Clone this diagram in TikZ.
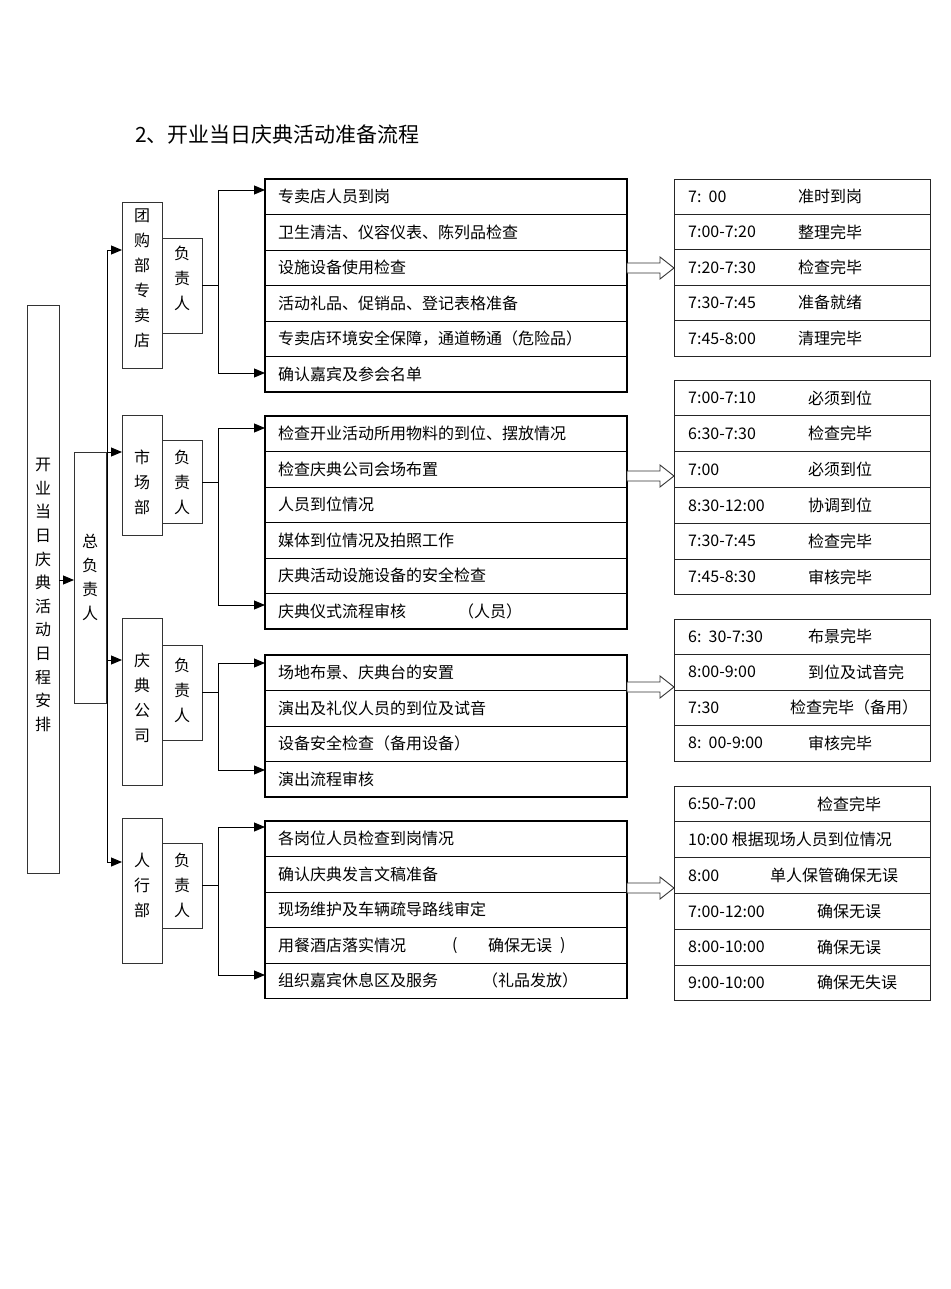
\documentclass[tikz,border=0pt]{standalone}
\usepackage{fontspec}
\setmainfont{Noto Sans CJK SC}
\usetikzlibrary{arrows.meta}
\begin{document}
\begin{tikzpicture}[x=1pt,y=-1pt,
  every node/.style={font=\fontsize{16}{18}\selectfont,inner sep=0pt},
  vbox/.style={draw=black!80,line width=0.9pt},
  vtext/.style={align=center,font=\fontsize{16}{25}\selectfont},
  arr/.style={line width=0.9pt,-{Triangle[length=11pt,width=9pt]}},
  ln/.style={line width=0.9pt},
  tl/.style={anchor=west},
  hollow/.style={draw=black!80,fill=white,line width=0.9pt}]
\useasboundingbox (0,0) rectangle (950,1289);
\node[tl,font=\fontsize{21}{24}\selectfont] (title) at (135,135) {2、开业当日庆典活动准备流程};
% left
\draw[vbox] (27,305) rectangle (59,873);
\node[vtext,font=\fontsize{16}{23.6}\selectfont] (main) at (43,595) {开\\业\\当\\日\\庆\\典\\活\\动\\日\\程\\安\\排};
\coordinate (mainR) at (59,580);
\draw[vbox] (74,452) rectangle (106,703);
\node[vtext,font=\fontsize{16}{24}\selectfont] (zong) at (90,577) {总\\负\\责\\人};
\coordinate (zongL) at (74,580);
\draw[arr] (mainR) -- (zongL);
% trunk
\draw[ln] (107,862) -- (107,250);
\foreach \y in {250,452,660,862} \draw[arr] (107,\y) -- (122,\y);
% departments
\draw[vbox] (122,202) rectangle (162,368);
\node[vtext] (d1) at (142,278) {团\\购\\部\\专\\卖\\店};
\draw[vbox] (162,238) rectangle (202,333);
\node[vtext] (f1) at (182,278) {负\\责\\人};
\draw[vbox] (122,415) rectangle (162,535);
\node[vtext] (d2) at (142,482) {市\\场\\部};
\draw[vbox] (162,440) rectangle (202,523);
\node[vtext] (f2) at (182,482) {负\\责\\人};
\draw[vbox] (122,618) rectangle (162,785);
\node[vtext] (d3) at (142,698) {庆\\典\\公\\司};
\draw[vbox] (162,645) rectangle (202,740);
\node[vtext] (f3) at (182,690) {负\\责\\人};
\draw[vbox] (122,818) rectangle (162,963);
\node[vtext] (d4) at (142,885) {人\\行\\部};
\draw[vbox] (162,843) rectangle (202,928);
\node[vtext] (f4) at (182,885) {负\\责\\人};
% buses
\foreach \m/\a/\b in {285/190/373, 482/428/605, 692/663/770, 885/827/975}{
  \draw[ln] (202,\m) -- (218,\m);
  \draw[ln] (218,\a) -- (218,\b);
  \draw[arr] (218,\a) -- (265,\a);
  \draw[arr] (218,\b) -- (265,\b);
}
% task tables
\foreach \top/\nn/\mm in {179/6/5, 416/6/5, 655/4/3, 821/5/4}{
  \draw[line width=1.4pt] (265,\top) rectangle (627,{\top+\nn*35.5});
  \foreach \k in {1,...,\mm} \draw[line width=0.8pt] (265,{\top+\k*35.5}) -- (627,{\top+\k*35.5});
}
\foreach \t [count=\i] in {专卖店人员到岗, 卫生清洁、仪容仪表、陈列品检查, 设施设备使用检查, 活动礼品、促销品、登记表格准备, 专卖店环境安全保障，通道畅通（危险品）, 确认嘉宾及参会名单}
  \node[tl] at (278,{179+(\i-0.5)*35.5}) {\t};
\foreach \t [count=\i] in {检查开业活动所用物料的到位、摆放情况, 检查庆典公司会场布置, 人员到位情况, 媒体到位情况及拍照工作, 庆典活动设施设备的安全检查, 庆典仪式流程审核}
  \node[tl] at (278,{416+(\i-0.5)*35.5}) {\t};
\node[tl] at (458,{416+5.5*35.5}) {（人员）};
\foreach \t [count=\i] in {场地布景、庆典台的安置, 演出及礼仪人员的到位及试音, 设备安全检查（备用设备）, 演出流程审核}
  \node[tl] at (278,{655+(\i-0.5)*35.5}) {\t};
\foreach \t [count=\i] in {各岗位人员检查到岗情况, 确认庆典发言文稿准备, 现场维护及车辆疏导路线审定, 用餐酒店落实情况, 组织嘉宾休息区及服务}
  \node[tl] at (278,{821+(\i-0.5)*35.5}) {\t};
\node[tl] at (452,{821+3.5*35.5}) {(};
\node[tl] at (488,{821+3.5*35.5}) {确保无误};
\node[tl] at (560,{821+3.5*35.5}) {)};
\node[tl] at (482,{821+4.5*35.5}) {（礼品发放）};
% hollow arrows
\foreach \y in {268,476,687,888}
  \draw[hollow] (627,\y-5) -- (660,\y-5) -- (660,\y-11) -- (674,\y) -- (660,\y+11) -- (660,\y+5) -- (627,\y+5) -- cycle;
% time tables
\foreach \top/\nn/\mm/\h in {179/5/4/35.4, 380/6/5/35.8, 619/4/3/35.5, 786/6/5/35.8}{
  \draw[line width=0.8pt,draw=black!85] (674,\top) rectangle (930,{\top+\nn*\h});
  \foreach \k in {1,...,\mm} \draw[line width=0.8pt,draw=black!85] (674,{\top+\k*\h}) -- (930,{\top+\k*\h});
}
\foreach \a/\b/\bx [count=\i] in {{7:\ \ 00}/准时到岗/798, 7:00-7:20/整理完毕/798, 7:20-7:30/检查完毕/798, 7:30-7:45/准备就绪/798, 7:45-8:00/清理完毕/798}{
  \node[tl] at (688,{179+(\i-0.5)*35.4}) {\a};
  \node[tl] at (\bx,{179+(\i-0.5)*35.4}) {\b};}
\foreach \a/\b/\bx [count=\i] in {7:00-7:10/必须到位/808, 6:30-7:30/检查完毕/808, 7:00/必须到位/808, 8:30-12:00/协调到位/808, 7:30-7:45/检查完毕/808, 7:45-8:30/审核完毕/808}{
  \node[tl] at (688,{380+(\i-0.5)*35.8}) {\a};
  \node[tl] at (\bx,{380+(\i-0.5)*35.8}) {\b};}
\foreach \a/\b/\bx [count=\i] in {{6:\ \ 30-7:30}/布景完毕/808, 8:00-9:00/到位及试音完/808, 7:30/检查完毕（备用）/790, {8:\ \ 00-9:00}/审核完毕/808}{
  \node[tl] at (688,{619+(\i-0.5)*35.5}) {\a};
  \node[tl] at (\bx,{619+(\i-0.5)*35.5}) {\b};}
\foreach \a/\b/\bx [count=\i] in {6:50-7:00/检查完毕/817, 10:00 根据现场人员到位情况/{}/817, 8:00/单人保管确保无误/770, 7:00-12:00/确保无误/817, 8:00-10:00/确保无误/817, 9:00-10:00/确保无失误/817}{
  \node[tl] at (688,{786+(\i-0.5)*35.8}) {\a};
  \node[tl] at (\bx,{786+(\i-0.5)*35.8}) {\b};}
\end{tikzpicture}
\end{document}
